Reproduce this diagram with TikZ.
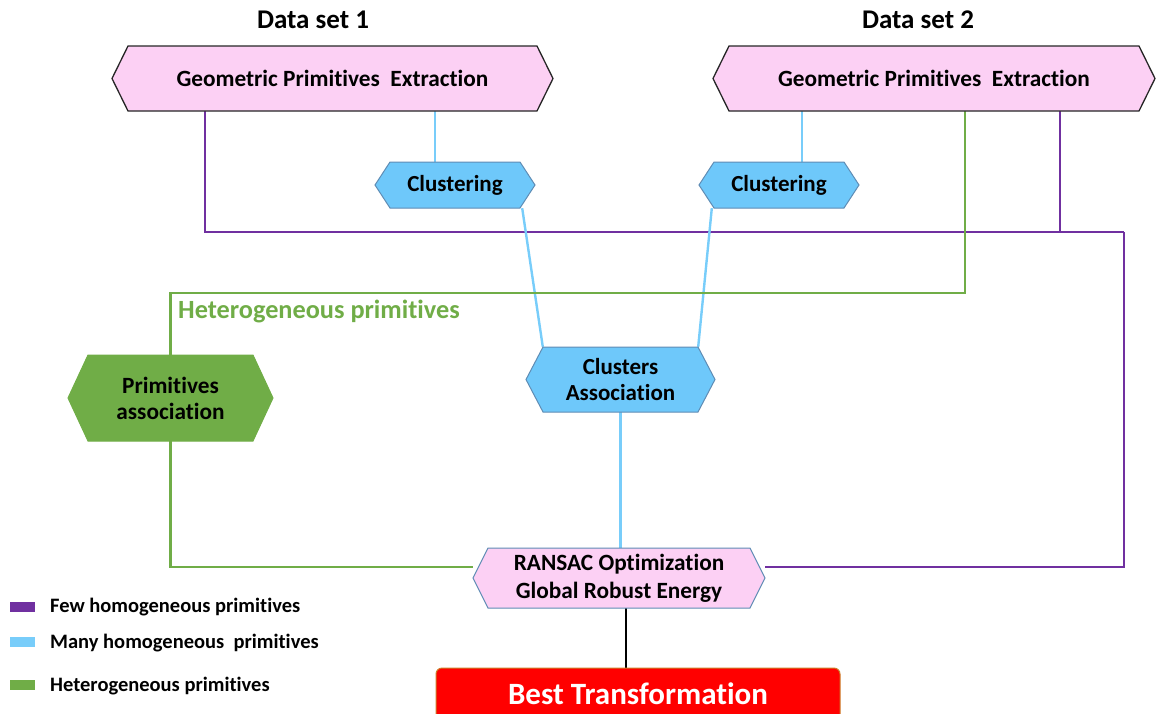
\documentclass[tikz,border=0pt]{standalone}
\usepackage{fontspec}
\setmainfont{Carlito}[Ligatures=NoCommon]
\usetikzlibrary{backgrounds,calc}
\definecolor{pinkf}{RGB}{252,208,244}
\definecolor{bluef}{RGB}{110,200,250}
\definecolor{blueb}{RGB}{95,140,180}
\definecolor{greenf}{RGB}{112,173,71}
\definecolor{purp}{RGB}{112,48,160}
\definecolor{bluel}{RGB}{120,205,250}
\definecolor{redf}{RGB}{255,0,0}
\definecolor{redb}{RGB}{205,125,40}
\newcommand\fs[2]{\bfseries\fontsize{#1}{#2}\selectfont}
\tikzset{
  txt/.style={draw=none,inner sep=0pt,align=center},
  gpe/.style={fill=pinkf,draw=black!85,line width=1.3pt,line join=miter},
  clu/.style={fill=bluef,draw=blueb,line width=1pt},
  grn/.style={fill=greenf,draw=greenf,line width=1pt},
  ran/.style={fill=pinkf,draw=blueb,line width=1pt},
  purl/.style={draw=purp,line width=2.4pt},
  blul/.style={draw=bluel,line width=2.4pt},
  grnl/.style={draw=greenf,line width=2.4pt},
  blkl/.style={draw=black,line width=2pt},
  legsq/.style={draw=none,minimum width=25pt,minimum height=10pt,inner sep=0pt},
  legtx/.style={anchor=west,inner sep=0pt,font=\fs{20.5}{24}},
}
% name, cx, cy, half width, half height, point depth, style, font, text
\newcommand\hexn[9]{%
  \draw[#7] ({#2-#4},#3) -- ({#2-#4+#6},{#3-#5}) -- ({#2+#4-#6},{#3-#5}) -- ({#2+#4},#3)
     -- ({#2+#4-#6},{#3+#5}) -- ({#2-#4+#6},{#3+#5}) -- cycle;
  \node[txt,font=#8,minimum width={2*#4},minimum height={2*#5}] (#1) at (#2,#3) {#9};}
\begin{document}
\begin{tikzpicture}[x=1pt,y=-1pt]
\useasboundingbox (0,0) rectangle (1160,713);
\clip (0,0) rectangle (1160,713);
\node[font=\fs{27}{30},inner sep=0pt] (d1) at (313,20) {Data set 1};
\node[font=\fs{27}{30},inner sep=0pt] (d2) at (918,20) {Data set 2};
\hexn{g1}{332.5}{78.5}{220.5}{32.5}{16}{gpe}{\fs{23.3}{26}}{Geometric Primitives\ \ Extraction}
\hexn{g2}{934}{78.5}{221}{32.5}{16}{gpe}{\fs{23.3}{26}}{Geometric Primitives\ \ Extraction}
\hexn{c1}{455}{185}{80}{23}{15}{clu}{\fs{23}{26}}{Clustering}
\hexn{c2}{779}{185}{80}{23}{15}{clu}{\fs{23}{26}}{Clustering}
\hexn{pa}{170.5}{398}{102.5}{43}{20}{grn}{\fs{23.3}{26}}{Primitives\\association}
\hexn{ca}{620.5}{379.5}{94.5}{32.5}{17}{clu}{\fs{23}{26}}{Clusters\\Association}
\hexn{r}{619}{578}{146}{30}{15}{ran}{\fs{23.3}{28}}{RANSAC Optimization\\Global Robust Energy}
\node[draw=redb,fill=redf,line width=1pt,rounded corners=6pt,minimum width=404pt,minimum height=54pt,inner sep=0pt,
  text=white,font=\fs{31}{34}] (bt) at (638,695) {\raisebox{3pt}{Best Transformation}};
\node[text=greenf,anchor=west,inner sep=0pt,font=\fs{26.3}{30}] (het) at (178,311) {Heterogeneous primitives};
% legend
\node[legsq,fill=purp] (l1) at (22.5,607) {};
\node[legsq,fill=bluel] (l2) at (22.5,642) {};
\node[legsq,fill=greenf] (l3) at (22.5,685) {};
\node[legtx] (t1) at (50,607) {Few homogeneous primitives};
\node[legtx] (t2) at (50,643) {Many homogeneous\ \ primitives};
\node[legtx] (t3) at (50,686) {Heterogeneous primitives};
\begin{scope}[on background layer]
  \coordinate (pj) at (1124,232);
  \coordinate (p1) at ([xshift=93pt]g1.south west);
  \coordinate (p2) at ([xshift=-95pt]g2.south east);
  \draw[purl] (p1) |- (pj);
  \draw[purl] (p2) -- (p2 |- pj);
  \draw[purl] (pj) |- ([yshift=11pt]r.east);
  \coordinate (b1) at ([xshift=323pt]g1.south west);
  \coordinate (b2) at ([xshift=89pt]g2.south west);
  \draw[blul] (b1) -- (b1 |- c1.north);
  \draw[blul] (b2) -- (b2 |- c2.north);
  \draw[blul] ([xshift=-13pt]c1.south east) -- ([xshift=17pt]ca.north west);
  \draw[blul] ([xshift=13pt]c2.south west) -- ([xshift=-17pt]ca.north east);
  \draw[blul] (ca.south) -- (ca.south |- r.north);
  \coordinate (gh) at (0,293);
  \coordinate (gs) at ([xshift=252pt]g2.south west);
  \draw[grnl] (gs) |- (pa.north |- gh) -- (pa.north);
  \draw[grnl] (pa.south) |- ([yshift=11pt]r.west);
  \coordinate (k) at ([xshift=7pt]r.south);
  \draw[blkl] (k) -- (k |- bt.north);
\end{scope}
\end{tikzpicture}
\end{document}
